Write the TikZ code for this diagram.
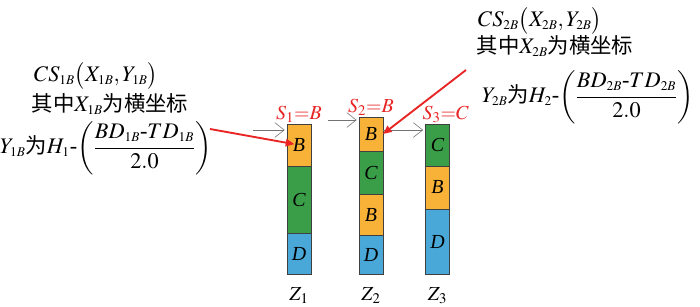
\documentclass[tikz,border=0pt]{standalone}
\usepackage{amsmath}
\usepackage{mathptmx}
\usepackage{fontspec}
\setmainfont{Liberation Serif}
\newfontfamily\cjk{Noto Sans CJK SC}[Scale=0.96]
\usetikzlibrary{arrows.meta, positioning}

\definecolor{blkorange}{RGB}{249,178,56}
\definecolor{blkgreen}{RGB}{58,158,72}
\definecolor{blkblue}{RGB}{74,168,216}
\definecolor{arrred}{RGB}{232,36,36}

\newcommand{\ssb}[1]{_{\scriptscriptstyle #1}}

\begin{document}
\begin{tikzpicture}[x=0.03cm, y=-0.03cm,
  blk/.style={draw=black!75, line width=0.6pt, minimum width=0.72cm, inner sep=0pt,
              outer sep=0pt, font=\fontsize{17}{20}\selectfont\itshape},
  slab/.style={text=arrred, inner sep=1pt, font=\fontsize{17}{20}\selectfont},
  zlab/.style={font=\fontsize{17}{20}\selectfont},
  formula/.style={inner sep=1pt, font=\fontsize{19}{22}\selectfont},
  grayarr/.style={draw=black!55, line width=0.5pt, -{Straight Barb[length=2.8mm, width=4.4mm]}},
  redarr/.style={draw=arrred, line width=1.6pt, -{Triangle[length=2.6mm, width=2.2mm]}},
]
  \useasboundingbox (0,0) rectangle (700,306);

  % stacks
  \node[blk, fill=blkorange, minimum height=1.26cm, anchor=north] (z1b) at (299,124) {B};
  \node[blk, fill=blkgreen,  minimum height=2.01cm, below=0pt of z1b] (z1c) {C};
  \node[blk, fill=blkblue,   minimum height=1.23cm, below=0pt of z1c] (z1d) {D};

  \node[blk, fill=blkorange, minimum height=1.02cm, anchor=north] (z2b) at (371,117) {B};
  \node[blk, fill=blkgreen,  minimum height=1.29cm, below=0pt of z2b] (z2c) {C};
  \node[blk, fill=blkorange, minimum height=1.23cm, below=0pt of z2c] (z2bb) {B};
  \node[blk, fill=blkblue,   minimum height=1.17cm, below=0pt of z2bb] (z2d) {D};

  \node[blk, fill=blkgreen,  minimum height=1.26cm, anchor=north] (z3c) at (437.5,124) {C};
  \node[blk, fill=blkorange, minimum height=1.29cm, below=0pt of z3c] (z3b) {B};
  \node[blk, fill=blkblue,   minimum height=1.95cm, below=0pt of z3b] (z3d) {D};

  \node[zlab, below=8pt of z1d] (z1) {$Z_1$};
  \node[zlab, below=8pt of z2d] (z2) {$Z_2$};
  \node[zlab, below=8pt of z3d] (z3) {$Z_3$};

  \node[slab, above=0pt of z1b] (s1) {$S_1{=}B$};
  \node[slab, above=0pt of z2b] (s2) {$S_2{=}B$};
  \node[slab, above=0pt of z3c, xshift=7] (s3) {$S_3{=}C$};

  % moves
  \coordinate (in1) at (253,130);
  \coordinate (in2) at (328,120);
  \coordinate (in3) at (0,130);
  \draw[grayarr, shorten >=2pt] (in1) -- (in1 -| z1b.west);
  \draw[grayarr, shorten >=2pt] (in2) -- (in2 -| z2b.west);
  \draw[grayarr, shorten >=2pt] (z2b.east |- in3) -- (in3 -| z3c.west);

  % coordinate notes
  \node[formula] (cs1) at (96,76) {$CS\ssb{1B}\bigl(X\ssb{1B},Y\ssb{1B}\bigr)$};
  \node[formula] (ax1) at (110,104) {{\cjk 其中}$X\ssb{1B}${\cjk 为横坐标}};
  \node[formula] (ay1) at (106,148) {$Y\ssb{1B}${\cjk 为}$H_{\scriptscriptstyle 1}$-$\left(\dfrac{BD\ssb{1B}\mbox{-}TD\ssb{1B}}{2.0}\right)$};

  \node[formula] (cs2) at (540,21) {$CS\ssb{2B}\bigl(X\ssb{2B},Y\ssb{2B}\bigr)$};
  \node[formula] (ax2) at (555,46) {{\cjk 其中}$X\ssb{2B}${\cjk 为横坐标}};
  \node[formula] (ay2) at (588,97) {$Y\ssb{2B}${\cjk 为}$H_{\scriptscriptstyle 2}$-$\left(\dfrac{BD\ssb{2B}\mbox{-}TD\ssb{2B}}{2.0}\right)$};

  \coordinate (r1) at (210,129);
  \coordinate (r2) at (466,70);
  \draw[redarr, shorten >=4pt] (r1) -- (z1b.center);
  \draw[redarr] (r2) -- (z2b.east);
\end{tikzpicture}
\end{document}
